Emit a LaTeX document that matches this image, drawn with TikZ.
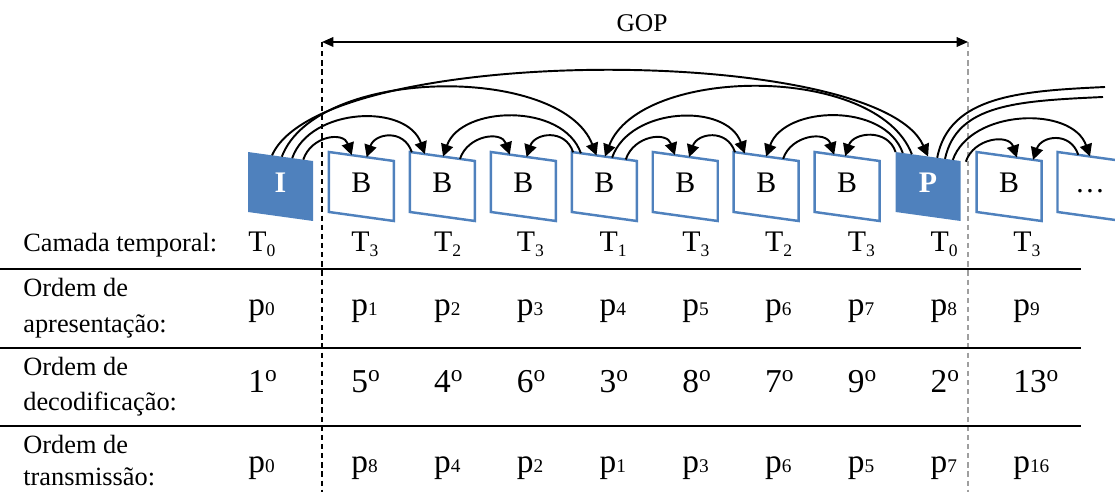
\documentclass[tikz,border=0pt]{standalone}
\usepackage{fontspec}
\setmainfont{Liberation Serif}
\usetikzlibrary{arrows.meta,calc}
\definecolor{framecolor}{HTML}{4F81BD}
\newcommand{\tlab}[1]{T\raisebox{-2.4pt}{\fontsize{10}{10}\selectfont #1}}
\newcommand{\plab}[1]{p{\fontsize{11}{11}\selectfont #1}}
\newcommand{\ordn}[1]{#1\textsuperscript{o}}
\tikzset{
  b frame/.style={draw=framecolor,line width=1.4pt},
  key frame/.style={fill=framecolor},
  b text/.style={font=\fontsize{17}{17}\selectfont,inner sep=0pt,anchor=base},
  key text/.style={b text,text=white,font=\fontsize{17}{17}\selectfont\bfseries},
  ref arrow/.style={black,line width=1.1pt,-{Triangle[length=7pt,width=7pt]}},
  ref line/.style={black,line width=1.1pt},
  gop arrow/.style={black,line width=.9pt,{Triangle[length=6.5pt,width=5.5pt]}-{Triangle[length=6.5pt,width=5.5pt]}},
  gop border/.style={line width=.6pt,dash pattern=on 3pt off 2.2pt},
  row rule/.style={black,line width=1.4pt},
  head text/.style={font=\fontsize{15}{18}\selectfont,inner sep=0pt,anchor=base west},
  cell text/.style={inner sep=0pt,anchor=base west}
}

\begin{document}
\begin{tikzpicture}[x=0.02cm,y=-0.02cm]
  \useasboundingbox (0,0) rectangle (1115,492);
  % GOP span
  \coordinate (gl) at (322,42);
  \coordinate (gr) at (968,42);
  \coordinate (gl end) at (322,492);
  \coordinate (gr end) at (968,492);
  \draw[gop border] (gl) -- (gl end);
  \draw[gop border,gray!75] (gr) -- (gr end);
  \draw[gop arrow] (gl) -- (gr);
  \node[font=\fontsize{14.5}{14.5}\selectfont,inner sep=0pt,anchor=base] (gop) at (642,32) {GOP};
  % frames
  \foreach \k/\sty/\txt/\lab in {0/key frame/key text/I,1/b frame/b text/B,2/b frame/b text/B,
      3/b frame/b text/B,4/b frame/b text/B,5/b frame/b text/B,6/b frame/b text/B,
      7/b frame/b text/B,8/key frame/key text/P,9/b frame/b text/B,10/b frame/b text/\dots}{
    \pgfmathsetmacro\L{248+80.95*\k}
    \coordinate (tl\k) at (\L,152);
    \coordinate (tr\k) at (\L+65,161);
    \path[\sty] (tl\k) -- (tr\k) -- ++(0,60) -- (\L,212) -- cycle;
    \node[\txt] (fr\k) at (\L+32.5,193) {\lab};
  }
  % references
  \foreach \a/\sa/\b/\sb/\ca/\cb/\h in {
      0/.85/1/.35/8/-8/-24, 2/.03/1/.58/-8/8/-24, 2/.77/3/.29/8/-8/-24, 4/.02/3/.55/-8/8/-24,
      4/.83/5/.34/8/-8/-24, 6/.02/5/.56/-8/8/-24, 6/.76/7/.30/8/-8/-24, 8/0/7/.47/-8/8/-24,
      8/1.08/9/.62/8/-8/-24, 10/.32/9/.87/-8/8/-24,
      0/.68/2/.23/18/-18/-51, 4/.14/2/.51/-18/18/-51, 4/.62/6/.17/18/-18/-51,
      8/.11/6/.50/-18/18/-51, 8/.88/10/.50/18/-18/-51,
      0/.52/4/.38/35/-35/-91, 8/.25/4/.51/-35/35/-91,
      0/.37/8/.50/50/-50/-113}{
    \draw[ref arrow] ($(tl\a)!\sa!(tr\a)$) .. controls +(\ca,\h) and +(\cb,\h) .. ($(tl\b)!\sb!(tr\b)$);
  }
  \coordinate (out1) at (1105,87);
  \coordinate (out2) at (1103,97);
  \draw[ref line] ($(tl8)!.64!(tr8)$) .. controls +(12,-62) and +(-85,4) .. (out1);
  \draw[ref line] ($(tl8)!.76!(tr8)$) .. controls +(12,-55) and +(-85,4) .. (out2);
  % table
  \foreach \y in {269,348,426}{\draw[row rule] (0,\y) -- (1081,\y);}
  \node[head text] (cam) at (23,252) {Camada temporal:};
  \node[head text] (apr1) at (23,297) {Ordem de};
  \node[head text] (apr2) at (23,333) {apresentação:};
  \node[head text] (dec1) at (23,376) {Ordem de};
  \node[head text] (dec2) at (23,411) {decodificação:};
  \node[head text] (trn1) at (23,454) {Ordem de};
  \node[head text] (trn2) at (23,486) {transmissão:};
  \foreach \t/\o/\q [count=\j from 0] in {0/1/0,3/5/8,2/4/4,3/6/2,1/3/1,3/8/3,2/7/6,3/9/5,0/2/7,3/13/16}{
    \pgfmathsetmacro\cx{\j==0 ? 248 : 351+82.75*(\j-1)}
    \node[cell text,font=\fontsize{17}{17}\selectfont] (tc\j) at (\cx,252) {\tlab{\t}};
    \node[cell text,font=\fontsize{19}{19}\selectfont] (pc\j) at (\cx,316) {\plab{\j}};
    \node[cell text,font=\fontsize{19}{19}\selectfont] (dc\j) at (\cx,393) {\ordn{\o}};
    \node[cell text,font=\fontsize{19}{19}\selectfont] (xc\j) at (\cx,473) {\plab{\q}};
  }
\end{tikzpicture}
\end{document}
